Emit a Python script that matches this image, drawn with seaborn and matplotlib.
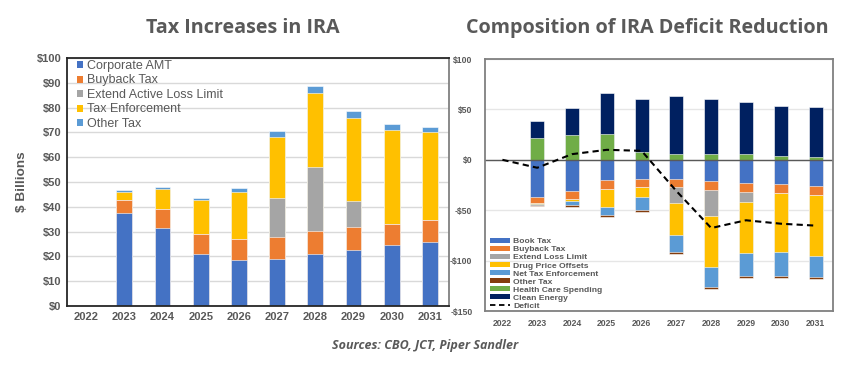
import numpy as np
import seaborn as sns
import matplotlib.pyplot as plt
from matplotlib.patches import Patch
from matplotlib.lines import Line2D

years = [str(y) for y in range(2022, 2032)]

# left panel: tax increases, $ billions
corp_amt = [0, 37.3, 31.3, 20.9, 18.6, 19.1, 20.9, 22.6, 24.4, 26.0]
buyback = [0, 5.4, 7.7, 8.1, 8.4, 8.8, 9.2, 9.2, 8.8, 8.8]
loss_limit = [0, 0, 0, 0, 0, 15.8, 26.1, 10.4, 0, 0]
tax_enf = [0, 3.1, 8.0, 13.7, 19.0, 24.5, 29.5, 33.8, 37.7, 35.3]
other_tax = [0, 0.8, 1.0, 0.8, 1.7, 2.3, 3.0, 2.7, 2.5, 2.1]

# right panel: composition of deficit reduction, $ billions
book_tax = [0, -37.3, -31.0, -20.5, -18.8, -19.1, -20.8, -22.8, -24.1, -25.7]
buyback_r = [0, -5.3, -8.0, -8.2, -7.9, -8.3, -8.9, -9.2, -8.9, -9.0]
loss_limit_r = [0, 0, 0, 0, 0, -15.8, -26.4, -9.9, 0, 0]
drug_price = [0, -1.3, -2.3, -18.2, -10.6, -31.7, -49.8, -50.5, -58.4, -61.0]
net_tax_enf = [0, -0.7, -3.9, -8.2, -12.5, -16.8, -20.1, -22.5, -23.5, -20.5]
other_tax_r = [0, -0.9, -1.3, -1.3, -1.7, -2.0, -2.4, -2.3, -1.9, -2.3]
health_care = [0, 22.1, 24.8, 25.4, 7.9, 5.6, 5.9, 5.3, 3.3, 3.0]
clean_energy = [0, 15.9, 27.0, 40.6, 52.5, 58.1, 54.8, 51.8, 50.5, 49.8]
deficit = [0, -7.9, 5.6, 9.9, 8.9, -31.0, -67.7, -60.0, -63.4, -65.3]

BLUE, ORANGE, GRAY, YELLOW = '#4472C4', '#ED7D31', '#A5A5A5', '#FFC000'
LBLUE, BROWN, GREEN, NAVY = '#5B9BD5', '#843C0C', '#70AD47', '#002060'
TXT = '#595959'

sns.set_style('white')
plt.rcParams['font.family'] = ['Liberation Sans', 'DejaVu Sans']


def stack_bars(ax, layers, colors, width):
    # draw the running totals back to front, each one covers the layer below
    cum = np.cumsum(np.array(layers, dtype=float), axis=0)
    for i in range(len(layers) - 1, -1, -1):
        sns.barplot(x=years, y=cum[i], color=colors[i], width=width, ax=ax,
                    saturation=1, errorbar=None, edgecolor='white', linewidth=0.4)


fig = plt.figure(figsize=(8.44, 3.66), dpi=100)
W, H = 844, 366
ax1 = fig.add_axes([67 / W, 1 - 306 / H, (449 - 67) / W, (306 - 58) / H])
ax2 = fig.add_axes([485 / W, 1 - 311 / H, (833 - 485) / W, (311 - 59) / H])

# ---- left
left_layers = [corp_amt, buyback, loss_limit, tax_enf, other_tax]
left_colors = [BLUE, ORANGE, GRAY, YELLOW, LBLUE]
left_names = ['Corporate AMT', 'Buyback Tax', 'Extend Active Loss Limit', 'Tax Enforcement', 'Other Tax']
ax1.set_axisbelow(True)
ax1.yaxis.grid(True, color='#D9D9D9', lw=1)
stack_bars(ax1, left_layers, left_colors, 0.41)
ax1.set_xlim(-0.5, 9.5)
ax1.set_ylim(0, 100)
ax1.set_yticks(range(0, 101, 10))
ax1.set_yticklabels([f'${v}' for v in range(0, 101, 10)])
ax1.set_xlabel('')
ax1.set_ylabel('$ Billions', fontsize=9.7, fontweight='bold', color=TXT, labelpad=6)
ax1.tick_params(length=0, labelsize=8, labelcolor=TXT, pad=4)
for lab in ax1.get_xticklabels() + ax1.get_yticklabels():
    lab.set_fontweight('bold')
for s in ax1.spines.values():
    s.set_color('#262626')
    s.set_linewidth(1.3)
ax1.spines['right'].set_color('#808080')
handles = [Patch(facecolor=c, edgecolor='none', label=n) for c, n in zip(left_colors, left_names)]
ax1.legend(handles=handles, loc='upper left', bbox_to_anchor=(77 / W, 1 - 60 / H),
           bbox_transform=fig.transFigure, frameon=False, fontsize=9, labelcolor=TXT,
           handlelength=0.5, handleheight=0.5, handletextpad=0.3, labelspacing=0.2,
           borderpad=0, borderaxespad=0)

# ---- right
neg_layers = [book_tax, buyback_r, loss_limit_r, drug_price, net_tax_enf, other_tax_r]
neg_colors = [BLUE, ORANGE, GRAY, YELLOW, LBLUE, BROWN]
ax2.set_axisbelow(True)
ax2.yaxis.grid(True, color='#E6E6E6', lw=1)
stack_bars(ax2, [health_care, clean_energy], [GREEN, NAVY], 0.4)
stack_bars(ax2, neg_layers, neg_colors, 0.4)
ax2.axhline(0, color='#595959', lw=1)
sns.lineplot(x=years, y=deficit, ax=ax2, color='black', lw=1.5, sort=False)
ax2.lines[-1].set_dashes((3, 2))
ax2.set_xlim(-0.5, 9.5)
ax2.set_ylim(-150, 100)
ax2.set_yticks(range(-150, 101, 50))
ax2.set_yticklabels([f'${v}' if v >= 0 else f'-${-v}' for v in range(-150, 101, 50)])
ax2.set_xlabel('')
ax2.set_ylabel('')
ax2.tick_params(length=0, labelsize=6.2, labelcolor=TXT, pad=6)
ax2.tick_params(axis='y', pad=9)
for lab in ax2.get_xticklabels() + ax2.get_yticklabels():
    lab.set_fontweight('bold')
for s in ax2.spines.values():
    s.set_color('#808080')
    s.set_linewidth(1.3)
right_names = ['Book Tax', 'Buyback Tax', 'Extend Loss Limit', 'Drug Price Offsets',
               'Net Tax Enforcement', 'Other Tax', 'Health Care Spending', 'Clean Energy']
right_colors = neg_colors + [GREEN, NAVY]
handles = [Patch(facecolor=c, edgecolor='none', label=n) for c, n in zip(right_colors, right_names)]
handles.append(Line2D([], [], color='black', lw=1.3, dashes=(3, 2), label='Deficit'))
leg = ax2.legend(handles=handles, loc='lower left', bbox_to_anchor=(490 / W, 1 - 310 / H),
                 bbox_transform=fig.transFigure, frameon=False, labelcolor=TXT,
                 handlelength=2.4, handleheight=0.5, handletextpad=0.3, labelspacing=0.08,
                 borderpad=0, borderaxespad=0, prop={'weight': 'bold', 'size': 6.1})

# ---- titles and source
fig.text(243 / W, 1 - 28 / H, 'Tax Increases in IRA', ha='center', va='center',
         fontsize=14.2, fontweight='bold', color=TXT, family=['Open Sans', 'DejaVu Sans'])
fig.text(647 / W, 1 - 28 / H, 'Composition of IRA Deficit Reduction', ha='center', va='center',
         fontsize=14.2, fontweight='bold', color=TXT, family=['Open Sans', 'DejaVu Sans'])
fig.text(425 / W, 1 - 346 / H, 'Sources: CBO, JCT, Piper Sandler', ha='center', va='center',
         fontsize=9, fontstyle='italic', fontweight='bold', color=TXT,
         family=['Open Sans', 'DejaVu Sans'])

fig.savefig('out.png', dpi=100, facecolor='white')
